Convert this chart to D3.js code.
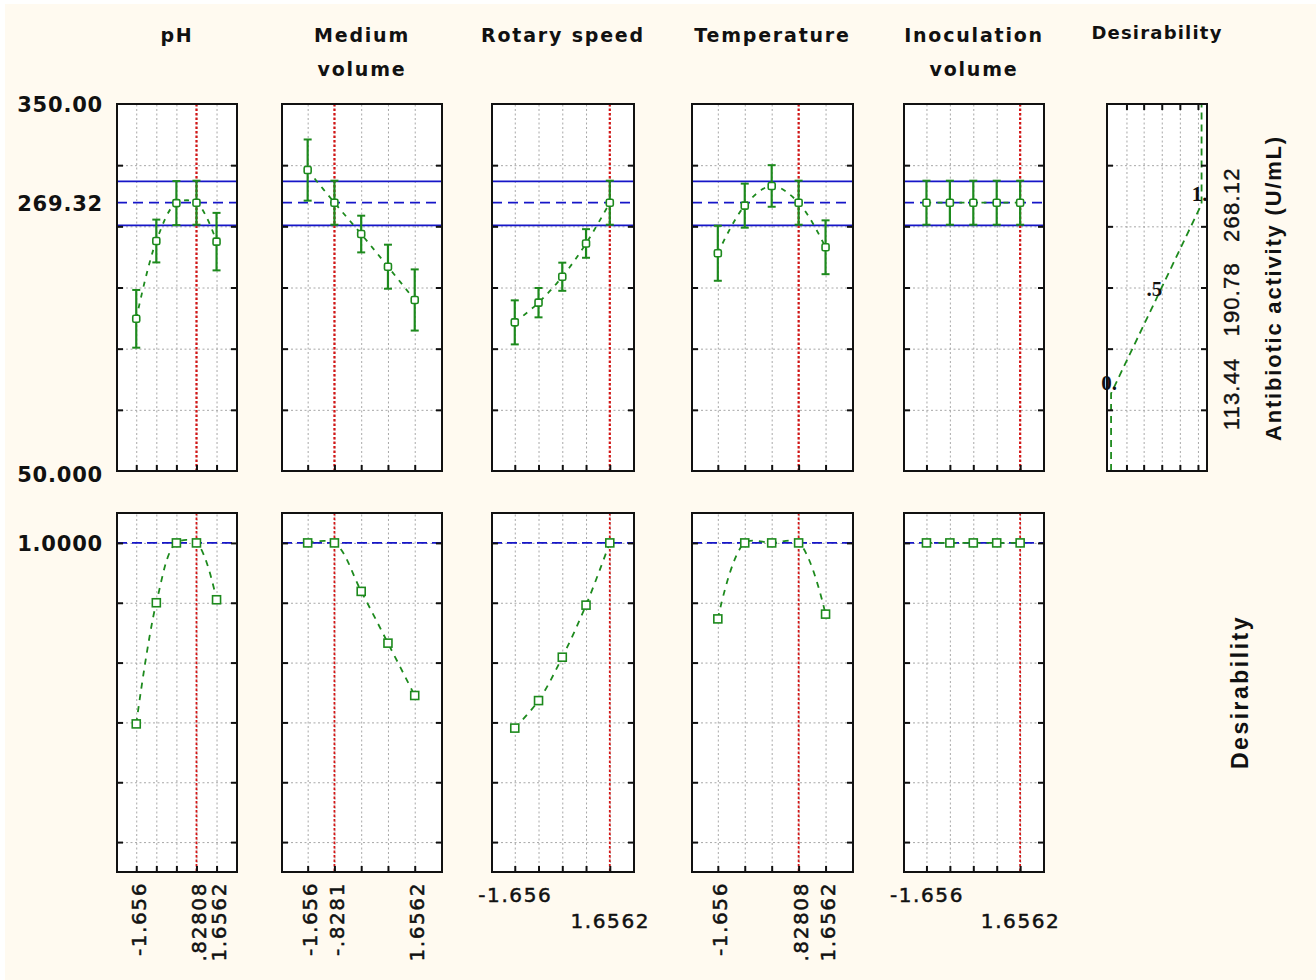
<!DOCTYPE html>
<html><head><meta charset="utf-8">
<script src="https://cdn.jsdelivr.net/npm/d3@7"></script>
<style>body{margin:0;background:#fff}</style></head>
<body>
<svg id="c" width="1316" height="980"></svg>
<script>
// ---------------- DATA ----------------
const factorTitles = [["pH"], ["Medium", "volume"], ["Rotary speed"], ["Temperature"], ["Inoculation", "volume"]];
const desirabilityTitle = "Desirability";
const levels = [-1.656, -0.828, 0, 0.828, 1.6562];
const currentLevels = [0.82808, -0.8281, 1.6562, 0.82808, 1.6562];

// predicted antibiotic activity (U/mL) and confidence half-widths
const phActivity = [174.4, 238, 269, 269.32, 237.5];
const phError = [23.6, 17.5, 18, 18, 23.5];
const mediumActivity = [296, 269.32, 243.7, 217, 189.8];
const mediumError = [25, 18, 15, 18, 25];
const rotaryActivity = [171.5, 187.6, 208.8, 236, 269.32];
const rotaryError = [18, 12, 11.5, 11.7, 18];
const temperatureActivity = [228, 266.9, 283, 269.32, 232.9];
const temperatureError = [22.5, 18, 17, 18, 22];
const inoculationActivity = [269.32, 269.32, 269.32, 269.32, 269.32];
const inoculationError = [18, 18, 18, 18, 18];

// desirability values
const phDesirability = [0.395, 0.80, 1, 1, 0.81];
const mediumDesirability = [1, 1, 0.838, 0.665, 0.49];
const rotaryDesirability = [0.381, 0.473, 0.618, 0.792, 1];
const temperatureDesirability = [0.746, 1, 1, 1, 0.762];
const inoculationDesirability = [1, 1, 1, 1, 1];

// reference lines
const predictedValue = 269.32;
const confidenceBand = [250.8, 286.8];
const activityDomain = [50, 350];
const activityGrid = [100, 150, 200, 250, 300];
const activityLabelValues = [350, 269.32, 50];
const activityLabels = ["350.00", "269.32", "50.000"];
const desirabilityGrid = [0, 0.2, 0.4, 0.6, 0.8, 1.0];
const desirabilityLabels = ["1.0000"];

// x tick labels per factor
const xLabelValues = [[-1.656, 0.82808, 1.6562], [-1.656, -0.8281, 1.6562], [-1.656, 1.6562], [-1.656, 0.82808, 1.6562], [-1.656, 1.6562]];
const xLabelTexts = [["-1.656", ".82808", "1.6562"], ["-1.656", "-.8281", "1.6562"], ["-1.656", "1.6562"], ["-1.656", ".82808", "1.6562"], ["-1.656", "1.6562"]];
const xLabelRotated = [true, true, false, true, false];

// desirability function of the response
const desFnActivity = [113.44, 190.78, 268.12];
const desFnLevels = [0, 0.5, 1];
const desFnLabels = ["0.", ".5", "1."];
const desFnGrid = [0.17, 0.36, 0.56, 0.76, 0.96];
const responseTitle = "Antibiotic activity (U/mL)";

// ---------------- LAYOUT ----------------
const activitySeries = [phActivity, mediumActivity, rotaryActivity, temperatureActivity, inoculationActivity];
const errorSeries = [phError, mediumError, rotaryError, temperatureError, inoculationError];
const desSeries = [phDesirability, mediumDesirability, rotaryDesirability, temperatureDesirability, inoculationDesirability];

const panelX = [[117, 237], [282, 442], [492, 634], [692, 853], [904, 1044]];
const desPanelX = [1107, 1207];
const topY = [104, 471], botY = [513, 872];
const xDomain = [-2.45, 2.5];

const GREEN = "#1d8a1d", BLUE = "#1616c8", RED = "#d41515", GRID = "#a8a8a8", INK = "#111";

const svg = d3.select("#c");
svg.append("rect").attr("width", 1316).attr("height", 980).attr("fill", "#fff");
svg.append("rect").attr("x", 5).attr("y", 4).attr("width", 1311).attr("height", 976).attr("fill", "#fffaf0");

const yTop = d3.scaleLinear().domain(activityDomain).range([topY[1], topY[0]]);
const yBot = d3.scaleLinear().domain([-0.1, 1.1]).range([botY[1], botY[0]]);

function styleGrid(sel) {
  sel.select(".domain").remove();
  sel.selectAll(".tick line").attr("stroke", GRID).attr("stroke-width", 1).attr("stroke-dasharray", "2,2.5");
}
function styleTicks(sel) {
  sel.select(".domain").remove();
  sel.selectAll(".tick line").attr("stroke", INK).attr("stroke-width", 2);
}

function panelBase(g, x, y, xr, yr, xTicks, yTicks) {
  const w = xr[1] - xr[0], h = yr[1] - yr[0];
  g.append("rect").attr("x", xr[0]).attr("y", yr[0]).attr("width", w).attr("height", h).attr("fill", "#fff");
  g.append("g").attr("transform", `translate(0,${yr[1]})`)
    .call(d3.axisBottom(x).tickValues(xTicks).tickSize(-h).tickFormat("")).call(styleGrid);
  g.append("g").attr("transform", `translate(${xr[0]},0)`)
    .call(d3.axisLeft(y).tickValues(yTicks).tickSize(-w).tickFormat("")).call(styleGrid);
}
function panelFrame(g, x, y, xr, yr, xTicks, yTicks, topTicks) {
  g.append("g").attr("transform", `translate(${xr[0]},0)`)
    .call(d3.axisLeft(y).tickValues(yTicks).tickSize(-6).tickFormat("")).call(styleTicks);
  g.append("g").attr("transform", `translate(${xr[1]},0)`)
    .call(d3.axisRight(y).tickValues(yTicks).tickSize(-6).tickFormat("")).call(styleTicks);
  g.append("g").attr("transform", `translate(0,${yr[1]})`)
    .call(d3.axisBottom(x).tickValues(xTicks).tickSize(-6).tickFormat("")).call(styleTicks);
  if (topTicks) g.append("g").attr("transform", `translate(0,${yr[0]})`)
    .call(d3.axisTop(x).tickValues(xTicks).tickSize(-6).tickFormat("")).call(styleTicks);
  g.append("rect").attr("x", xr[0]).attr("y", yr[0]).attr("width", xr[1] - xr[0]).attr("height", yr[1] - yr[0])
    .attr("fill", "none").attr("stroke", INK).attr("stroke-width", 2);
}

const curve = d3.curveCatmullRom.alpha(0.5);

factorTitles.forEach((title, i) => {
  const x = d3.scaleLinear().domain(xDomain).range(panelX[i]);
  const cx = (panelX[i][0] + panelX[i][1]) / 2;
  const t = svg.append("text").attr("x", cx).attr("y", 42).attr("text-anchor", "middle")
    .attr("font-family", "DejaVu Sans").attr("font-weight", "bold").attr("font-size", 19)
    .attr("letter-spacing", "1.8px").attr("fill", INK);
  title.forEach((line, k) => t.append("tspan").attr("x", cx).attr("dy", k === 0 ? 0 : 34).text(line));

  const clipId = "clip" + i;
  svg.append("clipPath").attr("id", clipId + "t").append("rect").attr("x", panelX[i][0]).attr("y", topY[0]).attr("width", panelX[i][1] - panelX[i][0]).attr("height", topY[1] - topY[0]);
  svg.append("clipPath").attr("id", clipId + "b").append("rect").attr("x", panelX[i][0]).attr("y", botY[0]).attr("width", panelX[i][1] - panelX[i][0]).attr("height", botY[1] - botY[0]);

  // ---------- top panel ----------
  const gt = svg.append("g");
  panelBase(gt, x, yTop, panelX[i], topY, levels, activityGrid);
  const gtc = gt.append("g").attr("clip-path", `url(#${clipId}t)`);
  confidenceBand.forEach(v => gtc.append("line").attr("x1", panelX[i][0]).attr("x2", panelX[i][1])
    .attr("y1", yTop(v)).attr("y2", yTop(v)).attr("stroke", BLUE).attr("stroke-width", 1.8));
  gtc.append("line").attr("x1", panelX[i][0]).attr("x2", panelX[i][1]).attr("y1", yTop(predictedValue)).attr("y2", yTop(predictedValue))
    .attr("stroke", BLUE).attr("stroke-width", 1.8).attr("stroke-dasharray", "10,6");
  gtc.append("line").attr("x1", x(currentLevels[i])).attr("x2", x(currentLevels[i])).attr("y1", topY[0]).attr("y2", topY[1])
    .attr("stroke", RED).attr("stroke-width", 2.2).attr("stroke-dasharray", "2.5,2");
  const ptsT = levels.map((l, k) => ({ l, v: activitySeries[i][k], e: errorSeries[i][k] }));
  gtc.append("path").datum(ptsT).attr("d", d3.line().x(d => x(d.l)).y(d => yTop(d.v)).curve(curve))
    .attr("fill", "none").attr("stroke", GREEN).attr("stroke-width", 1.8).attr("stroke-dasharray", "5,6");
  const eb = gtc.selectAll(".eb").data(ptsT).join("g");
  eb.append("line").attr("x1", d => x(d.l)).attr("x2", d => x(d.l)).attr("y1", d => yTop(d.v - d.e)).attr("y2", d => yTop(d.v + d.e))
    .attr("stroke", GREEN).attr("stroke-width", 2.2);
  [-1, 1].forEach(s => eb.append("line").attr("x1", d => x(d.l) - 4).attr("x2", d => x(d.l) + 4)
    .attr("y1", d => yTop(d.v + s * d.e)).attr("y2", d => yTop(d.v + s * d.e)).attr("stroke", GREEN).attr("stroke-width", 2));
  eb.append("rect").attr("x", d => x(d.l) - 3.5).attr("y", d => yTop(d.v) - 3.5).attr("width", 7).attr("height", 7)
    .attr("rx", 1.5).attr("fill", "#fff").attr("stroke", GREEN).attr("stroke-width", 1.6);
  panelFrame(gt, x, yTop, panelX[i], topY, levels, activityGrid, false);

  // ---------- bottom panel ----------
  const gb = svg.append("g");
  panelBase(gb, x, yBot, panelX[i], botY, levels, desirabilityGrid);
  const gbc = gb.append("g").attr("clip-path", `url(#${clipId}b)`);
  gbc.append("line").attr("x1", panelX[i][0]).attr("x2", panelX[i][1]).attr("y1", yBot(1)).attr("y2", yBot(1))
    .attr("stroke", BLUE).attr("stroke-width", 1.8).attr("stroke-dasharray", "10,5");
  gbc.append("line").attr("x1", x(currentLevels[i])).attr("x2", x(currentLevels[i])).attr("y1", botY[0]).attr("y2", botY[1])
    .attr("stroke", RED).attr("stroke-width", 1.8).attr("stroke-dasharray", "2.5,2");
  const ptsB = levels.map((l, k) => ({ l, v: desSeries[i][k] }));
  gbc.append("path").datum(ptsB).attr("d", d3.line().x(d => x(d.l)).y(d => yBot(d.v)).curve(curve))
    .attr("fill", "none").attr("stroke", GREEN).attr("stroke-width", 1.8).attr("stroke-dasharray", "6,6");
  gbc.selectAll(".mk").data(ptsB).join("rect").attr("x", d => x(d.l) - 4).attr("y", d => yBot(d.v) - 4)
    .attr("width", 8).attr("height", 8).attr("fill", "#fff").attr("stroke", GREEN).attr("stroke-width", 1.6);
  panelFrame(gb, x, yBot, panelX[i], botY, levels, desirabilityGrid, false);

  // x tick labels
  const xa = svg.append("g").attr("transform", `translate(0,${botY[1]})`)
    .call(d3.axisBottom(x).tickValues(xLabelValues[i]).tickSize(0).tickFormat((d, k) => xLabelTexts[i][k]));
  xa.select(".domain").remove();
  xa.selectAll("text").attr("font-family", "DejaVu Sans").attr("font-size", 20).attr("letter-spacing", "1.6px")
    .attr("fill", INK).attr("stroke", INK).attr("stroke-width", 0.5);
  if (xLabelRotated[i]) {
    xa.selectAll("text").attr("transform", "rotate(-90)").attr("text-anchor", "end")
      .attr("x", -10).attr("y", 2).attr("dy", "0.35em");
  } else {
    xa.selectAll("text").attr("text-anchor", "middle").attr("y", (d, k) => k === 0 ? 16 : 42).attr("dy", "0.71em");
  }
});

// y labels
const ya = svg.append("g").attr("transform", "translate(103,0)")
  .call(d3.axisLeft(yTop).tickValues(activityLabelValues).tickSize(0).tickPadding(0).tickFormat((d, k) => activityLabels[k]));
ya.select(".domain").remove();
ya.selectAll("text").attr("font-family", "DejaVu Sans").attr("font-weight", "bold").attr("font-size", 21)
  .attr("letter-spacing", "0.8px").attr("fill", INK).attr("dy", (d, k) => k === 2 ? "0.5em" : "0.35em");
const yb = svg.append("g").attr("transform", "translate(103,0)")
  .call(d3.axisLeft(yBot).tickValues([1]).tickSize(0).tickPadding(0).tickFormat((d, k) => desirabilityLabels[k]));
yb.select(".domain").remove();
yb.selectAll("text").attr("font-family", "DejaVu Sans").attr("font-weight", "bold").attr("font-size", 21)
  .attr("letter-spacing", "0.8px").attr("fill", INK).attr("dy", "0.35em");

// ---------- desirability function panel ----------
const xD = d3.scaleLinear().domain([-0.045, 1.06]).range(desPanelX);
svg.append("text").attr("x", (desPanelX[0] + desPanelX[1]) / 2).attr("y", 39).attr("text-anchor", "middle")
  .attr("font-family", "DejaVu Sans").attr("font-weight", "bold").attr("font-size", 18).attr("letter-spacing", "1.2px")
  .attr("fill", INK).text(desirabilityTitle);
const gd = svg.append("g");
panelBase(gd, xD, yTop, desPanelX, topY, desFnGrid, activityGrid);
const fnPts = [[desFnLevels[0], activityDomain[0]]]
  .concat(desFnLevels.map((l, k) => [l, desFnActivity[k]]))
  .concat([[desFnLevels[2], activityDomain[1]]]);
gd.append("path").datum(fnPts).attr("d", d3.line().x(d => xD(d[0])).y(d => yTop(d[1])))
  .attr("fill", "none").attr("stroke", GREEN).attr("stroke-width", 1.8).attr("stroke-dasharray", "7,5");
panelFrame(gd, xD, yTop, desPanelX, topY, desFnGrid, activityGrid, true);
gd.selectAll(".dl").data(desFnLevels).join("text")
  .attr("x", d => xD(d) - 2).attr("y", (d, k) => yTop(desFnActivity[k]) - 3).attr("text-anchor", "middle")
  .attr("font-family", "Liberation Serif").attr("font-weight", "bold").attr("font-size", 21).attr("fill", INK)
  .text((d, k) => desFnLabels[k]);

// response value labels on the right
const ra = svg.append("g").attr("transform", "translate(1231,0)")
  .call(d3.axisRight(yTop).tickValues(desFnActivity).tickSize(0).tickFormat((d, k) => d.toFixed(2)));
ra.select(".domain").remove();
ra.selectAll("text").attr("transform", "rotate(-90)").attr("x", 0).attr("y", 0).attr("dy", "0.35em")
  .attr("text-anchor", "middle").attr("font-family", "Liberation Sans").attr("font-size", 22)
  .attr("letter-spacing", "1.2px").attr("fill", INK).attr("stroke", INK).attr("stroke-width", 0.4);

svg.append("text").attr("transform", "translate(1273,288) rotate(-90)").attr("dy", "0.35em").attr("text-anchor", "middle")
  .attr("font-family", "Liberation Sans").attr("font-weight", "bold").attr("font-size", 22).attr("letter-spacing", "1.8px")
  .attr("fill", INK).text(responseTitle);
svg.append("text").attr("transform", "translate(1240,692) rotate(-90)").attr("dy", "0.35em").attr("text-anchor", "middle")
  .attr("font-family", "Liberation Sans").attr("font-weight", "bold").attr("font-size", 23).attr("letter-spacing", "2.5px")
  .attr("fill", INK).text(desirabilityTitle);
</script>
</body></html>
